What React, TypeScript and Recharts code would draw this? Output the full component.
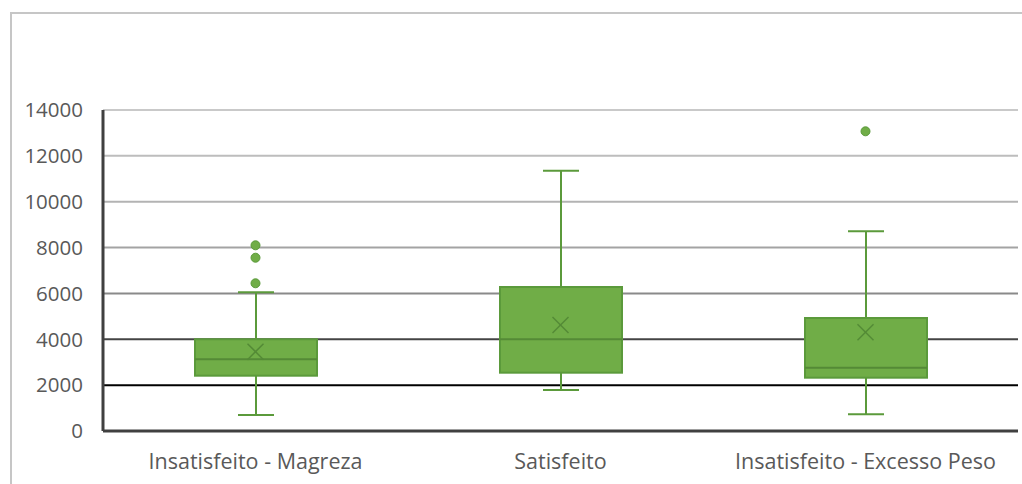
import React from "react";
import {
  ComposedChart,
  Bar,
  Line,
  XAxis,
  YAxis,
  CartesianGrid,
} from "recharts";

// Box plot stats
const categorias = ["Insatisfeito - Magreza", "Satisfeito", "Insatisfeito - Excesso Peso"];
const minimo = [698, 1788, 727];
const quartil1 = [2412, 2543, 2325];
const mediana = [3127, 4000, 2761];
const quartil3 = [4000, 6280, 4928];
const maximo = [6049, 11353, 8709];
const media = [3460, 4623, 4305];
const outliers = [[8099, 7558, 6442], [], [13071]];
const yTicks = [0, 2000, 4000, 6000, 8000, 10000, 12000, 14000];

// gridline shade, from bottom (0) to top (14000)
const gridShades = ["#404040", "#000000", "#444444", "#8a8a8a", "#a3a3a3", "#b3b3b3", "#bdbdbd", "#c9c9c9"];

const GREEN = "#70ad47";
const EDGE = "#5b9a3b";
const DARK = "#548a36";

const data = categorias.map((cat, i) => ({
  cat,
  range: [minimo[i], maximo[i]],
  q1: quartil1[i],
  med: mediana[i],
  q3: quartil3[i],
  min: minimo[i],
  max: maximo[i],
  mean: media[i],
  out1: outliers[i][0] ?? null,
  out2: outliers[i][1] ?? null,
  out3: outliers[i][2] ?? null,
}));

const BoxShape = (props: any) => {
  const { x, y, width, height, payload } = props;
  const top = Math.min(y, y + height);
  const h = Math.abs(height);
  const { min, max, q1, med, q3 } = payload;
  const py = (v: number) => top + (h * (max - v)) / (max - min);
  const cx = x + width / 2;
  const cap = 18;
  return (
    <g>
      <line x1={cx} x2={cx} y1={py(max)} y2={py(q3)} stroke={EDGE} strokeWidth={2} />
      <line x1={cx} x2={cx} y1={py(q1)} y2={py(min)} stroke={EDGE} strokeWidth={2} />
      <line x1={cx - cap} x2={cx + cap} y1={py(max)} y2={py(max)} stroke={EDGE} strokeWidth={2} />
      <line x1={cx - cap} x2={cx + cap} y1={py(min)} y2={py(min)} stroke={EDGE} strokeWidth={2} />
      <rect x={x} y={py(q3)} width={width} height={py(q1) - py(q3)} fill={GREEN} stroke={EDGE} strokeWidth={2} />
      <line x1={x} x2={x + width} y1={py(med)} y2={py(med)} stroke={DARK} strokeWidth={2} />
    </g>
  );
};

const MeanMark = (props: any) => {
  const { cx, cy } = props;
  if (cx == null || cy == null) return null;
  const s = 8;
  return (
    <g>
      <line x1={cx - s} y1={cy - s} x2={cx + s} y2={cy + s} stroke={DARK} strokeWidth={1.5} />
      <line x1={cx - s} y1={cy + s} x2={cx + s} y2={cy - s} stroke={DARK} strokeWidth={1.5} />
    </g>
  );
};

const outlierDot = { r: 4.5, fill: GREEN, stroke: EDGE, strokeWidth: 1 };

const GridLine = (p: any) => (
  <line
    key={p.key}
    x1={p.x1}
    x2={p.x2}
    y1={p.y1}
    y2={p.y2}
    stroke={gridShades[p.index] ?? "#bfbfbf"}
    strokeWidth={2}
  />
);

export default function App() {
  const font = "'Open Sans', sans-serif";
  return (
    <div style={{ position: "absolute", left: 0, top: 0, width: 1022, height: 484, background: "#fff", overflow: "hidden" }}>
      <div
        style={{
          position: "absolute",
          left: 10,
          top: 12,
          width: 1040,
          height: 500,
          borderLeft: "2px solid #c6c6c6",
          borderTop: "2px solid #c6c6c6",
        }}
      />
      <div style={{ position: "absolute", left: 0, top: 0 }}>
        <ComposedChart
          width={1022}
          height={484}
          data={data}
          margin={{ top: 110, right: 4, bottom: 0, left: 0 }}
          barSize={122}
        >
          <CartesianGrid vertical={false} horizontal={GridLine} />
          <XAxis
            dataKey="cat"
            height={53}
            interval={0}
            tickLine={false}
            tickSize={0}
            tickMargin={23}
            axisLine={{ stroke: "#404040", strokeWidth: 3 }}
            tick={{ fill: "#595959", fontSize: 21.5, fontFamily: font }}
          />
          <YAxis
            width={103}
            domain={[0, 14000]}
            ticks={yTicks}
            interval={0}
            tickLine={false}
            tickSize={0}
            tickMargin={20}
            axisLine={{ stroke: "#404040", strokeWidth: 3 }}
            tick={{ fill: "#595959", fontSize: 20.5, fontFamily: font }}
          />
          <Bar dataKey="range" shape={BoxShape} isAnimationActive={false} />
          <Line dataKey="mean" stroke="none" dot={<MeanMark />} activeDot={false} isAnimationActive={false} />
          <Line dataKey="out1" stroke="none" dot={outlierDot} activeDot={false} isAnimationActive={false} />
          <Line dataKey="out2" stroke="none" dot={outlierDot} activeDot={false} isAnimationActive={false} />
          <Line dataKey="out3" stroke="none" dot={outlierDot} activeDot={false} isAnimationActive={false} />
        </ComposedChart>
      </div>
    </div>
  );
}
